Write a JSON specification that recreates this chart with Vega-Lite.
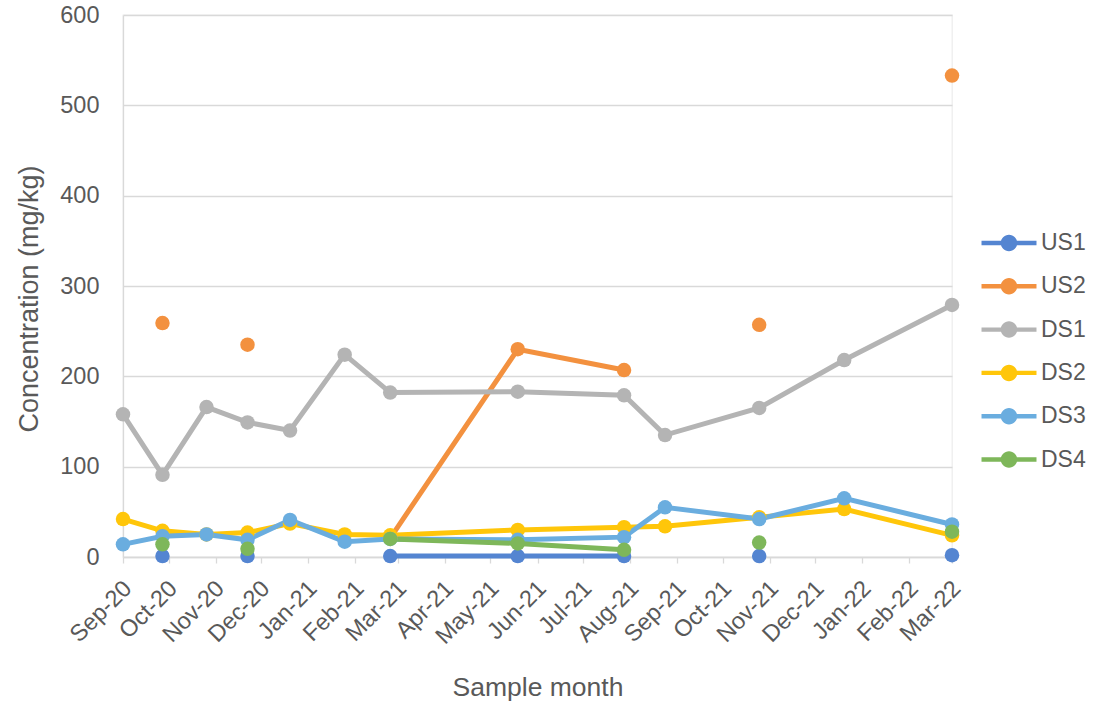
{
  "$schema": "https://vega.github.io/schema/vega-lite/v6.json",
  "width": 829,
  "height": 542,
  "autosize": {"type": "none"},
  "padding": {"left": 123, "top": 15, "right": 144, "bottom": 149},
  "background": "white",
  "config": {
    "font": "Liberation Sans",
    "view": {"stroke": "#eeeeee", "strokeWidth": 1.3},
    "axis": {
      "labelColor": "#595959",
      "titleColor": "#595959",
      "labelFont": "Liberation Sans",
      "titleFont": "Liberation Sans",
      "labelFontSize": 23.5,
      "titleFontSize": 26.5,
      "titleFontWeight": "normal",
      "domainColor": "#d9d9d9",
      "gridColor": "#d9d9d9",
      "tickColor": "#d9d9d9",
      "domainWidth": 1.3,
      "gridWidth": 1.3,
      "tickWidth": 1.3
    }
  },
  "data": {
    "values": [
      {"date": "2020-09-01", "US1": null, "US2": null, "DS1": 158, "DS2": 42, "DS3": 14, "DS4": null},
      {"date": "2020-09-27", "US1": 1, "US2": 259, "DS1": 91, "DS2": 29, "DS3": 23, "DS4": 14},
      {"date": "2020-10-26", "US1": null, "US2": null, "DS1": 166, "DS2": 25, "DS3": 25, "DS4": null},
      {"date": "2020-11-22", "US1": 1, "US2": 235, "DS1": 149, "DS2": 27, "DS3": 19, "DS4": 9},
      {"date": "2020-12-20", "US1": null, "US2": null, "DS1": 140, "DS2": 37, "DS3": 41, "DS4": null},
      {"date": "2021-01-25", "US1": null, "US2": null, "DS1": 224, "DS2": 25, "DS3": 17, "DS4": null},
      {"date": "2021-02-24", "US1": 1, "US2": 21, "DS1": 182, "DS2": 24, "DS3": 20, "DS4": 20},
      {"date": "2021-05-19", "US1": 1, "US2": 230, "DS1": 183, "DS2": 30, "DS3": 19, "DS4": 15},
      {"date": "2021-07-28", "US1": 1, "US2": 207, "DS1": 179, "DS2": 33, "DS3": 22, "DS4": 8},
      {"date": "2021-08-24", "US1": null, "US2": null, "DS1": 135, "DS2": 34, "DS3": 55, "DS4": null},
      {"date": "2021-10-25", "US1": 1, "US2": 257, "DS1": 165, "DS2": 44, "DS3": 42, "DS4": 16},
      {"date": "2021-12-20", "US1": null, "US2": null, "DS1": 218, "DS2": 53, "DS3": 65, "DS4": null},
      {"date": "2022-03-01", "US1": 2, "US2": 533, "DS1": 279, "DS2": 24, "DS3": 36, "DS4": 28}
    ]
  },
  "transform": [
    {"fold": ["US1", "US2", "DS1", "DS2", "DS3", "DS4"], "as": ["series", "value"]}
  ],
  "encoding": {
    "x": {
      "field": "date",
      "type": "temporal",
      "title": "Sample month",
      "scale": {
        "type": "utc",
        "domain": [
          {"year": 2020, "month": 9, "date": 1, "utc": true},
          {"year": 2022, "month": 3, "date": 1, "utc": true}
        ]
      },
      "axis": {
        "tickCount": {"interval": "month", "step": 1},
        "format": "%b-%y",
        "labelAngle": -45,
        "labelPadding": 13,
        "labelOffset": -4,
        "tickSize": 6,
        "grid": false,
        "labelOverlap": false,
        "labelFlush": false,
        "titleX": 414.5,
        "titleY": 138,
        "titleBaseline": "alphabetic"
      }
    },
    "y": {
      "field": "value",
      "type": "quantitative",
      "title": "Concentration (mg/kg)",
      "scale": {"domain": [0, 600]},
      "axis": {
        "values": [0, 100, 200, 300, 400, 500, 600],
        "ticks": false,
        "tickSize": 0,
        "labelPadding": 24,
        "grid": true,
        "titleX": -86,
        "titleY": 283.5,
        "titleFontSize": 27,
        "titleBaseline": "alphabetic"
      }
    },
    "color": {
      "field": "series",
      "type": "nominal",
      "scale": {
        "domain": ["US1", "US2", "DS1", "DS2", "DS3", "DS4"],
        "range": ["#5485D1", "#F3913F", "#B4B4B4", "#FFC60A", "#6AADDF", "#7EB75A"]
      },
      "legend": {
        "title": null,
        "orient": "none",
        "legendX": 872,
        "legendY": 214,
        "padding": 0,
        "symbolType": "M-2,-0.16L2,-0.16L2,0.16L-2,0.16Z M-0.6,0A0.6,0.6,0,1,1,0.6,0A0.6,0.6,0,1,1,-0.6,0Z",
        "symbolSize": 756,
        "symbolStrokeWidth": 0,
        "symbolOpacity": 1,
        "labelFontSize": 23,
        "labelColor": "#595959",
        "labelFont": "Liberation Sans",
        "labelOffset": 18,
        "rowPadding": 17.3
      }
    }
  },
  "layer": [
    {"mark": {"type": "line", "strokeWidth": 5, "invalid": "break-paths-filter-domains"}},
    {"mark": {"type": "point", "filled": true, "size": 210, "opacity": 1, "invalid": "filter"}}
  ]
}
